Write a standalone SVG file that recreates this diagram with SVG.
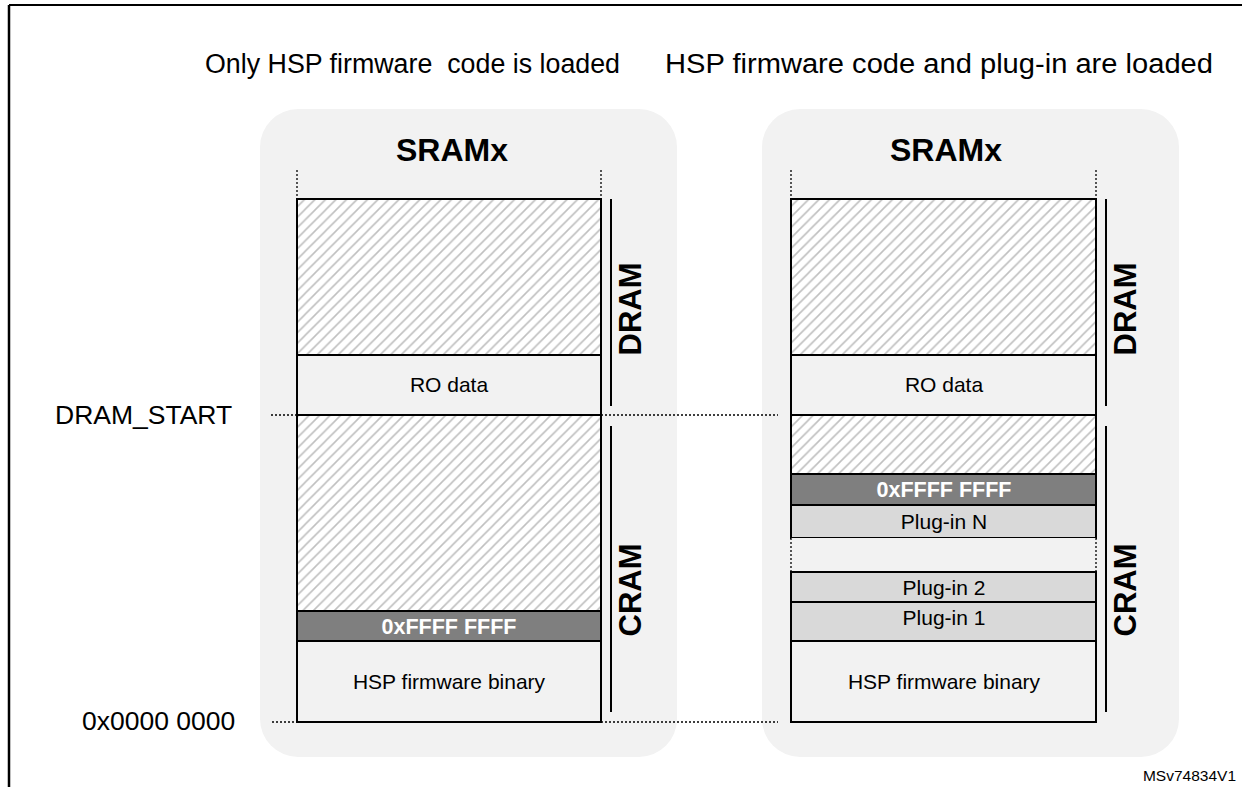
<svg xmlns="http://www.w3.org/2000/svg" width="1242" height="787" viewBox="0 0 1242 787">
<style>
text{font-family:"Liberation Sans",Arial,sans-serif;fill:#000}
.title{font-size:27px;white-space:pre}
.lbl{font-size:26.5px}
.sram{font-size:32px;font-weight:bold}
.vert{font-size:31px;font-weight:bold}
.in{font-size:21px}
.ff{font-size:21.5px;font-weight:bold;fill:#fff}
.panel{fill:#f2f2f2}
.hatch{fill:url(#h);stroke:#000;stroke-width:2}
.box{fill:#f2f2f2;stroke:#000;stroke-width:2}
.plug{fill:#d9d9d9;stroke:#000;stroke-width:2}
.band{fill:#7f7f7f;stroke:#000;stroke-width:2}
.bar{stroke:#000;stroke-width:2}
.dot{stroke:#000;stroke-width:1.3;stroke-dasharray:2 2;fill:none}
</style>
<defs>
<pattern id="h" patternUnits="userSpaceOnUse" width="10.5" height="10.5">
<rect width="10.5" height="10.5" fill="#fff"/>
<path d="M0,10.5 L10.5,0 M-5,5 L5,-5 M5.5,15.5 L15.5,5.5" stroke="#c0c0c0" stroke-width="1.6"/>
</pattern>
</defs>
<rect width="1242" height="787" fill="#fff"/>
<g id="frame">
<line x1="9" y1="5" x2="1242" y2="5" stroke="#000" stroke-width="2"/>
<line x1="9" y1="5" x2="9" y2="787" stroke="#000" stroke-width="2.5"/>
</g>
<text class="title" x="205" y="73" textLength="415" lengthAdjust="spacingAndGlyphs" xml:space="preserve">Only HSP firmware  code is loaded</text>
<text class="title" x="665" y="73" textLength="548" lengthAdjust="spacingAndGlyphs">HSP firmware code and plug-in are loaded</text>
<text class="lbl" x="55" y="424">DRAM_START</text>
<text class="lbl" x="82" y="730">0x0000 0000</text>
<text x="1236" y="781" text-anchor="end" style="font-size:15.5px">MSv74834V1</text>

<g id="left-panel">
<rect class="panel" x="260" y="109" width="417" height="648" rx="38"/>
<text class="sram" x="452" y="161" text-anchor="middle">SRAMx</text>
<rect class="hatch" x="297" y="199" width="304" height="156"/>
<rect class="box" x="297" y="355" width="304" height="60"/>
<text class="in" x="449" y="392" text-anchor="middle">RO data</text>
<rect class="hatch" x="297" y="415" width="304" height="196"/>
<rect class="band" x="297" y="611" width="304" height="30"/>
<text class="ff" x="449" y="634" text-anchor="middle">0xFFFF FFFF</text>
<rect class="box" x="297" y="641" width="304" height="81"/>
<text class="in" x="449" y="689" text-anchor="middle">HSP firmware binary</text>
<line class="bar" x1="297" y1="415" x2="601" y2="415" stroke-width="3"/>
<line class="bar" x1="611" y1="199" x2="611" y2="406"/>
<line class="bar" x1="611" y1="426" x2="611" y2="712"/>
<text class="vert" transform="translate(641,309) rotate(-90)" text-anchor="middle">DRAM</text>
<text class="vert" transform="translate(641,590) rotate(-90)" text-anchor="middle">CRAM</text>
</g>

<g id="right-panel">
<rect class="panel" x="762" y="109" width="417" height="648" rx="38"/>
<text class="sram" x="946" y="161" text-anchor="middle">SRAMx</text>
<rect class="hatch" x="791" y="199" width="305" height="156"/>
<rect class="box" x="791" y="355" width="305" height="60"/>
<text class="in" x="944" y="392" text-anchor="middle">RO data</text>
<rect class="hatch" x="791" y="415" width="305" height="59"/>
<rect class="band" x="791" y="474" width="305" height="31"/>
<text class="ff" x="944" y="497" text-anchor="middle">0xFFFF FFFF</text>
<rect class="plug" x="791" y="505" width="305" height="33"/>
<text class="in" x="944" y="529" text-anchor="middle">Plug-in N</text>
<rect x="791" y="538" width="305" height="34" fill="#f2f2f2"/>
<line class="dot" x1="791" y1="538" x2="791" y2="572"/>
<line class="dot" x1="1096" y1="538" x2="1096" y2="572"/>
<rect class="plug" x="791" y="572" width="305" height="30"/>
<text class="in" x="944" y="595" text-anchor="middle">Plug-in 2</text>
<rect class="plug" x="791" y="602" width="305" height="39"/>
<text class="in" x="944" y="625" text-anchor="middle">Plug-in 1</text>
<rect class="box" x="791" y="641" width="305" height="81"/>
<text class="in" x="944" y="689" text-anchor="middle">HSP firmware binary</text>
<line class="bar" x1="791" y1="415" x2="1096" y2="415" stroke-width="3"/>
<line class="bar" x1="1106" y1="199" x2="1106" y2="406"/>
<line class="bar" x1="1106" y1="426" x2="1106" y2="712"/>
<text class="vert" transform="translate(1136,309) rotate(-90)" text-anchor="middle">DRAM</text>
<text class="vert" transform="translate(1136,590) rotate(-90)" text-anchor="middle">CRAM</text>
</g>

<g id="guides">
<line class="dot" x1="297" y1="170" x2="297" y2="199"/>
<line class="dot" x1="601" y1="170" x2="601" y2="199"/>
<line class="dot" x1="791" y1="170" x2="791" y2="199"/>
<line class="dot" x1="1096" y1="170" x2="1096" y2="199"/>
<line class="dot" x1="271" y1="415" x2="297" y2="415"/>
<line class="dot" x1="601" y1="415" x2="778" y2="415"/>
<line class="dot" x1="272" y1="722" x2="297" y2="722"/>
<line class="dot" x1="601" y1="722" x2="778" y2="722"/>
</g>
</svg>
